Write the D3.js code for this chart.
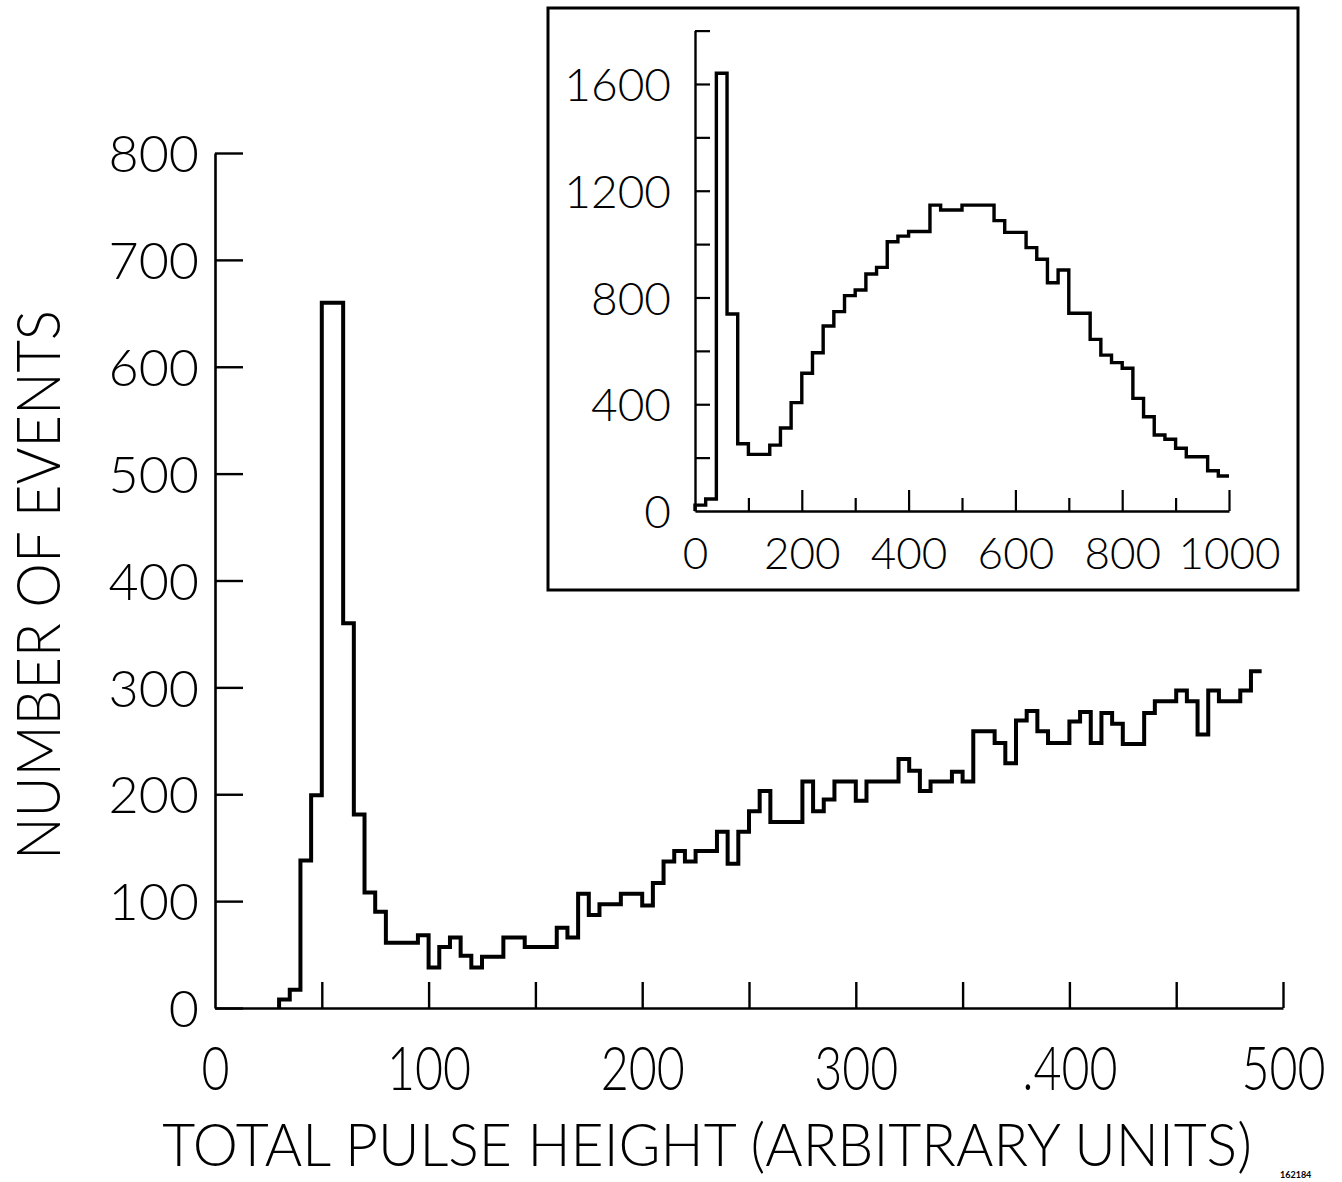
<!DOCTYPE html>
<html>
<head>
<meta charset="UTF-8"/>
<style>
  body { margin: 0; background: #fff; }
  text { font-family: Lato, "DejaVu Sans", sans-serif; font-weight: 300; fill: #000; }
</style>
</head>
<body>
<script src="https://d3js.org/d3.v7.min.js"></script>
<script>
// main histogram: 5-unit bins starting at 30
const mainBinStart = 30;
const mainBinWidth = 5;
const mainCounts = [
  8, 17, 138, 199, 660, 660, 360, 181, 108, 90,
  61, 61, 61, 68, 38, 57, 66, 49, 38, 48,
  48, 66, 66, 57, 57, 57, 75, 66, 107, 87,
  97, 97, 107, 107, 96, 117, 137, 147, 137, 147,
  147, 165, 135, 165, 184, 203, 174, 174, 174, 212,
  184, 195, 212, 212, 194, 212, 212, 212, 233, 222,
  203, 212, 212, 221, 212, 259, 259, 248, 229, 269,
  278, 259, 248, 248, 268, 277, 248, 276, 266, 247,
  247, 276, 287, 287, 297, 287, 256, 297, 287, 287,
  297, 315
];
const mainYTicks = [0, 100, 200, 300, 400, 500, 600, 700, 800];
const mainXTicks = [50, 100, 150, 200, 250, 300, 350, 400, 450, 500];
const mainXLabelValues = [0, 100, 200, 300, 400, 500];
const mainXLabels = ["0", "100", "200", "300", ".400", "500"];

// inset histogram: 20-unit bins from 0 to 1000
const insetBinWidth = 20;
const insetCounts = [
  22, 45, 1640, 738, 252, 212, 212, 247, 311, 406,
  516, 593, 693, 747, 807, 828, 888, 913, 1009, 1030,
  1047, 1047, 1146, 1128, 1128, 1146, 1146, 1146, 1088, 1044,
  1044, 987, 943, 855, 903, 741, 741, 643, 584, 556,
  535, 422, 353, 285, 269, 235, 203, 203, 151, 131
];
const insetYTicks = [200, 400, 600, 800, 1000, 1200, 1400, 1600, 1800];
const insetYLabels = [0, 400, 800, 1200, 1600];
const insetXMajor = [200, 400, 600, 800, 1000];
const insetXMinor = [100, 300, 500, 700, 900];
const insetXLabels = [0, 200, 400, 600, 800, 1000];

const svg = d3.select("body").append("svg")
  .attr("width", 1342)
  .attr("height", 1182);

function stepPoints(start, width, counts) {
  const pts = [[start, 0]];
  counts.forEach((c, i) => pts.push([start + i * width, c]));
  pts.push([start + counts.length * width, counts[counts.length - 1]]);
  return pts;
}

// squeeze a text horizontally so it spans the given width
function fitText(sel, cx, cy, width, rotate) {
  const w = sel.node().getComputedTextLength();
  const s = width / w;
  sel.attr("transform", `translate(${cx},${cy})` + (rotate ? ` rotate(${rotate})` : "") + ` scale(${s},1)`);
}

// ---------- main chart ----------
const x = d3.scaleLinear().domain([0, 500]).range([215, 1283]);
const y = d3.scaleLinear().domain([0, 800]).range([1008, 153]);

const gy = svg.append("g").attr("transform", `translate(${x(0)},0)`)
  .call(d3.axisLeft(y).tickValues(mainYTicks).tickSizeInner(-28).tickSizeOuter(0).tickPadding(16));
gy.selectAll("text").attr("font-size", 52).attr("dy", "0.36em");

const gxTicks = svg.append("g").attr("transform", `translate(0,${y(0)})`)
  .call(d3.axisBottom(x).tickValues(mainXTicks).tickSizeInner(-26).tickSizeOuter(0).tickFormat(""));
const gxLab = svg.append("g").attr("transform", `translate(0,${y(0)})`)
  .call(d3.axisBottom(x).tickValues(mainXLabelValues).tickSize(0).tickPadding(38)
    .tickFormat((d, i) => mainXLabels[i]));
gxLab.select(".domain").remove();
gxLab.selectAll("text").attr("font-size", 62).attr("transform", "scale(0.78,1)");

[gy, gxTicks].forEach(g => {
  g.select(".domain").attr("stroke", "#000").attr("stroke-width", 2.6);
  g.selectAll(".tick line").attr("stroke", "#000").attr("stroke-width", 2.4);
});

const mainLine = d3.line().x(d => x(d[0])).y(d => y(d[1])).curve(d3.curveStepAfter);
svg.append("path")
  .datum(stepPoints(mainBinStart, mainBinWidth, mainCounts))
  .attr("d", mainLine)
  .attr("fill", "none")
  .attr("stroke", "#000")
  .attr("stroke-width", 4);

const yTitle = svg.append("text")
  .attr("text-anchor", "middle")
  .attr("font-size", 62)
  .text("NUMBER OF EVENTS");
fitText(yTitle, 60, 585, 550, -90);

const xTitle = svg.append("text")
  .attr("text-anchor", "middle")
  .attr("font-size", 60)
  .text("TOTAL PULSE HEIGHT (ARBITRARY UNITS)");
fitText(xTitle, 707, 1166, 1090);

svg.append("text")
  .attr("x", 1280)
  .attr("y", 1178)
  .attr("font-size", 9)
  .style("font-weight", 700)
  .text("162184");

// ---------- inset ----------
svg.append("rect")
  .attr("x", 548).attr("y", 8)
  .attr("width", 750).attr("height", 582)
  .attr("fill", "#fff")
  .attr("stroke", "#000")
  .attr("stroke-width", 3);

const ix = d3.scaleLinear().domain([0, 1000]).range([695, 1229]);
const iy = d3.scaleLinear().domain([0, 1800]).range([511, 30.6]);

const iyAxis = svg.append("g").attr("transform", `translate(${ix(0)},0)`)
  .call(d3.axisLeft(iy).tickValues(insetYTicks).tickSizeInner(-15).tickSizeOuter(0).tickFormat(""));
const iyLab = svg.append("g").attr("transform", `translate(${ix(0)},0)`)
  .call(d3.axisLeft(iy).tickValues(insetYLabels).tickSize(0).tickPadding(24).tickFormat(d3.format("d")));
iyLab.select(".domain").remove();
iyLab.selectAll("text").attr("font-size", 46).attr("dy", "0.36em");

const ixMajor = svg.append("g").attr("transform", `translate(0,${iy(0)})`)
  .call(d3.axisBottom(ix).tickValues(insetXMajor).tickSizeInner(-21).tickSizeOuter(0).tickFormat(""));
const ixMinor = svg.append("g").attr("transform", `translate(0,${iy(0)})`)
  .call(d3.axisBottom(ix).tickValues(insetXMinor).tickSizeInner(-13).tickSizeOuter(0).tickFormat(""));
ixMinor.select(".domain").remove();
const ixLab = svg.append("g").attr("transform", `translate(0,${iy(0)})`)
  .call(d3.axisBottom(ix).tickValues(insetXLabels).tickSize(0).tickPadding(27).tickFormat(d3.format("d")));
ixLab.select(".domain").remove();
ixLab.selectAll("text").attr("font-size", 44);

[iyAxis, ixMajor, ixMinor].forEach(g => {
  g.select(".domain").attr("stroke", "#000").attr("stroke-width", 2.4);
  g.selectAll(".tick line").attr("stroke", "#000").attr("stroke-width", 2.2);
});

const insetLine = d3.line().x(d => ix(d[0])).y(d => iy(d[1])).curve(d3.curveStepAfter);
svg.append("path")
  .datum(stepPoints(0, insetBinWidth, insetCounts))
  .attr("d", insetLine)
  .attr("fill", "none")
  .attr("stroke", "#000")
  .attr("stroke-width", 3.4);
</script>
</body>
</html>
